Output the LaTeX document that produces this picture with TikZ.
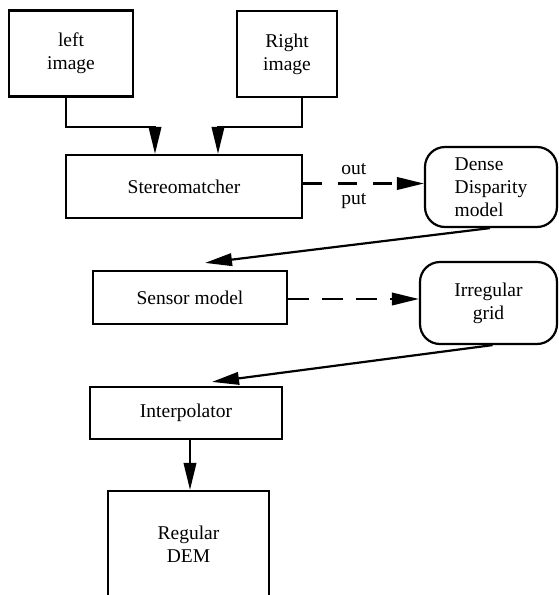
\documentclass[tikz,border=0pt]{standalone}
\usepackage{fontspec}
\setmainfont{Liberation Serif}
\usetikzlibrary{arrows.meta,calc}
\begin{document}
\begin{tikzpicture}[x=1pt,y=-1pt,
  every node/.style={font=\fontsize{19.5}{23}\selectfont},
  box/.style={draw,line width=2.2pt,inner sep=0pt,align=center},
  rbox/.style={box,rounded corners=20pt},
  arr/.style={line width=2.2pt,-{Triangle[length=27pt,width=12.5pt]}},
  darr/.style={arr,dash pattern=on 19pt off 16pt}]
\useasboundingbox (0,0) rectangle (558,595);
\node[box,minimum width=124pt,minimum height=86pt] (left) at (71,53.5) {left\\image};
\node[box,minimum width=100pt,minimum height=86pt] (right) at (287,54) {Right\\image};
\node[box,minimum width=236pt,minimum height=63pt] (stereo) at (184,186.5) {Stereomatcher};
\node[rbox,minimum width=132pt,minimum height=80pt,align=left] (dense) at (491,187) {Dense\\Disparity\\model};
\node[box,minimum width=194pt,minimum height=53pt] (sensor) at (190,297.5) {Sensor model};
\node[rbox,minimum width=137pt,minimum height=82pt] (irr) at (488.5,303) {Irregular\\grid};
\node[box,minimum width=192pt,minimum height=52pt] (interp) at (186,413) {Interpolator};
\node[box,minimum width=161pt,minimum height=106pt] (dem) at (188.5,544) {Regular\\DEM};
% connectors
\draw[arr] ([xshift=-5pt]left.south) |- ([xshift=-29pt,yshift=27pt]stereo.north) -- ([xshift=-29pt]stereo.north);
\draw[arr] ([xshift=15pt]right.south) |- ([xshift=34pt,yshift=27pt]stereo.north) -- ([xshift=34pt]stereo.north);
\draw[darr] ([yshift=3pt]stereo.east) -- ([yshift=3pt]stereo.east -| dense.west)
  node[pos=0.42,above=4pt] (out) {out} node[pos=0.42,below=6pt] (put) {put};
\draw[arr] ([xshift=-1pt]dense.south) -- ([xshift=15pt,yshift=7pt]sensor.north);
\draw[darr,dash pattern=on 21pt off 13pt] ([yshift=-1.5pt]sensor.east) -- ([yshift=-1.5pt]sensor.east -| irr.west);
\draw[arr] ([xshift=4pt]irr.south) -- ([xshift=26pt,yshift=4pt]interp.north);
\draw[arr] ([xshift=4pt]interp.south) -- ([xshift=4pt]interp.south |- dem.north);
\end{tikzpicture}
\end{document}
